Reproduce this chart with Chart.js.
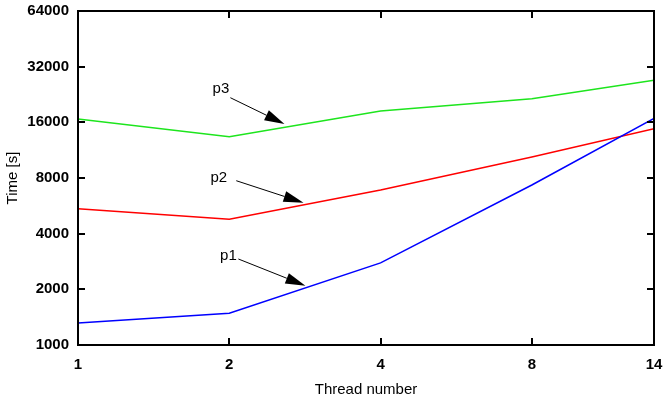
<!DOCTYPE html>
<html>
<head>
<meta charset="utf-8">
<script src="https://cdn.jsdelivr.net/npm/chart.js@4"></script>
<style>
  html, body { margin: 0; padding: 0; background: #fff; }
  #wrap { width: 670px; height: 403px; }
</style>
</head>
<body>
<div id="wrap"><canvas id="myChart" width="670" height="403"></canvas></div>
<script>
// thread counts (x) and run times in seconds
const threads = [1, 2, 4, 8, 14];
const p1Times = [1315, 1484, 2780, 7330, 16800];
const p2Times = [5460, 4780, 6890, 10390, 14780];
const p3Times = [16680, 13380, 18420, 21470, 27000];

const xTicks = [1, 2, 4, 8, 14];
const yTicks = [1000, 2000, 4000, 8000, 16000, 32000, 64000];

// labels with their arrows
const labelNames = ['p1', 'p2', 'p3'];
const labelAt = [[2.07, 3030], [1.98, 8000], [2.0, 24200]];
const arrowFrom = [[2.085, 2918], [2.065, 7735], [2.01, 21740]];
const arrowTo = [[2.835, 2093], [2.81, 5883], [2.575, 15670]];

const tickFont = { family: "'Liberation Sans', Arial, sans-serif", size: 15, weight: 'bold' };
const titleFont = { family: "'Liberation Sans', Arial, sans-serif", size: 15 };

function toPoints(ys) {
  return threads.map((t, i) => ({ x: t, y: ys[i] }));
}

// gnuplot style frame, mirrored inward ticks and arrow labels
const gnuplotFrame = {
  id: 'gnuplotFrame',
  afterDatasetsDraw(chart) {
    const ctx = chart.ctx;
    const area = chart.chartArea;
    const xs = chart.scales.x;
    const ys = chart.scales.y;
    ctx.save();
    ctx.strokeStyle = '#000';
    ctx.lineWidth = 2;
    ctx.beginPath();
    xTicks.forEach(v => {
      const px = Math.round(xs.getPixelForValue(v));
      ctx.moveTo(px, area.bottom); ctx.lineTo(px, area.bottom - 7);
      ctx.moveTo(px, area.top); ctx.lineTo(px, area.top + 7);
    });
    yTicks.forEach(v => {
      const py = Math.round(ys.getPixelForValue(v));
      ctx.moveTo(area.left, py); ctx.lineTo(area.left + 7, py);
      ctx.moveTo(area.right, py); ctx.lineTo(area.right - 7, py);
    });
    ctx.stroke();
    ctx.strokeRect(area.left, area.top, area.right - area.left, area.bottom - area.top);

    // labels and arrows
    ctx.font = "15px 'Liberation Sans', Arial, sans-serif";
    ctx.fillStyle = '#000';
    ctx.textAlign = 'right';
    ctx.textBaseline = 'middle';
    labelNames.forEach((name, i) => {
      ctx.fillText(name, xs.getPixelForValue(labelAt[i][0]), ys.getPixelForValue(labelAt[i][1]));
      const x0 = xs.getPixelForValue(arrowFrom[i][0]);
      const y0 = ys.getPixelForValue(arrowFrom[i][1]);
      const x1 = xs.getPixelForValue(arrowTo[i][0]);
      const y1 = ys.getPixelForValue(arrowTo[i][1]);
      const ang = Math.atan2(y1 - y0, x1 - x0);
      const len = 20, half = 5.5;
      const bx = x1 - len * Math.cos(ang);
      const by = y1 - len * Math.sin(ang);
      ctx.lineWidth = 1;
      ctx.beginPath();
      ctx.moveTo(x0, y0);
      ctx.lineTo(bx, by);
      ctx.stroke();
      ctx.beginPath();
      ctx.moveTo(x1, y1);
      ctx.lineTo(bx - half * Math.sin(ang), by + half * Math.cos(ang));
      ctx.lineTo(bx + half * Math.sin(ang), by - half * Math.cos(ang));
      ctx.closePath();
      ctx.fill();
    });
    ctx.restore();
  }
};

new Chart(document.getElementById('myChart'), {
  type: 'line',
  data: {
    datasets: [
      { label: 'p1', data: toPoints(p1Times), borderColor: '#0000ff', borderWidth: 1.5, pointRadius: 0, tension: 0, fill: false },
      { label: 'p2', data: toPoints(p2Times), borderColor: '#ff0000', borderWidth: 1.5, pointRadius: 0, tension: 0, fill: false },
      { label: 'p3', data: toPoints(p3Times), borderColor: '#1de51d', borderWidth: 1.5, pointRadius: 0, tension: 0, fill: false }
    ]
  },
  options: {
    responsive: false,
    animation: false,
    layout: { padding: { top: 11, right: 16, left: 0, bottom: 0 } },
    plugins: {
      legend: { display: false },
      tooltip: { enabled: false }
    },
    scales: {
      x: {
        type: 'logarithmic',
        min: 1,
        max: 14,
        afterBuildTicks: s => { s.ticks = xTicks.map(v => ({ value: v })); },
        afterFit: s => { s.height = 58; s.paddingLeft = 0; s.paddingRight = 0; },
        grid: { display: false, drawTicks: false },
        border: { display: false },
        ticks: {
          color: '#000',
          font: tickFont,
          padding: 11,
          maxRotation: 0,
          autoSkip: false,
          callback: v => String(v)
        },
        title: { display: true, text: 'Thread number', color: '#000', font: titleFont, padding: { top: 0, bottom: 4 } }
      },
      y: {
        type: 'logarithmic',
        min: 1000,
        max: 64000,
        afterBuildTicks: s => { s.ticks = yTicks.map(v => ({ value: v })); },
        afterFit: s => { s.width = 78; s.paddingTop = 0; s.paddingBottom = 0; },
        grid: { display: false, drawTicks: false },
        border: { display: false },
        ticks: {
          color: '#000',
          font: tickFont,
          padding: 9,
          autoSkip: false,
          callback: v => String(v)
        },
        title: { display: true, text: 'Time [s]', color: '#000', font: titleFont, padding: { top: 4, bottom: 0 } }
      }
    }
  },
  plugins: [gnuplotFrame]
});
</script>
</body>
</html>
